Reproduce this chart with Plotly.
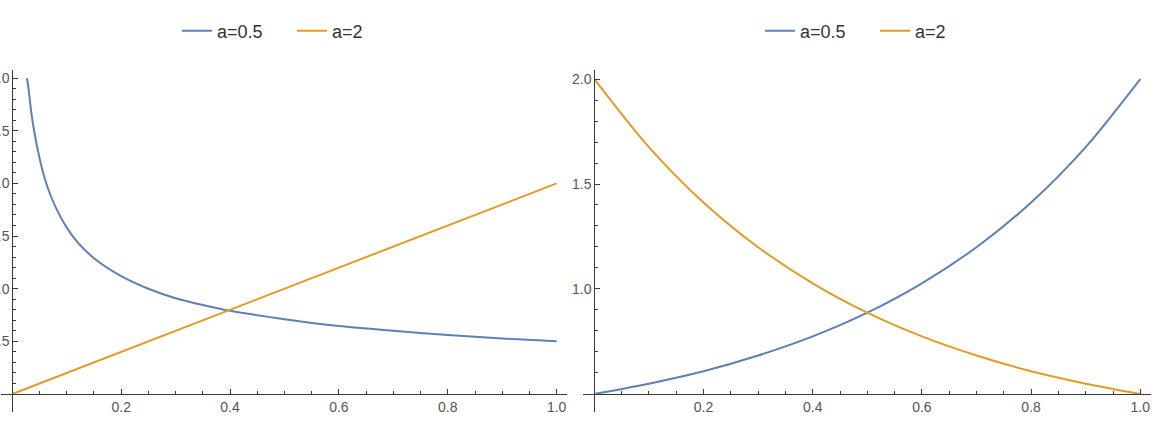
import plotly.graph_objects as go

W, H = 1156, 432

# ---- data ----
left_x_blue = [0.027, 0.03, 0.035, 0.04, 0.05, 0.06, 0.07, 0.08, 0.10, 0.12, 0.15, 0.20,
               0.25, 0.30, 0.35, 0.40, 0.50, 0.60, 0.70, 0.80, 0.90, 1.00]
left_y_blue = [3.00, 2.89, 2.67, 2.50, 2.24, 2.04, 1.89, 1.77, 1.58, 1.44, 1.29, 1.12,
               1.00, 0.91, 0.845, 0.79, 0.71, 0.645, 0.60, 0.56, 0.527, 0.50]
left_x_orange = [0.0, 0.2, 0.4, 0.6, 0.8, 1.0]
left_y_orange = [0.0, 0.4, 0.8, 1.2, 1.6, 2.0]

right_x = [0.0, 0.1, 0.2, 0.3, 0.4, 0.5, 0.6, 0.7, 0.8, 0.9, 1.0]
right_y_blue = [0.50, 0.549, 0.608, 0.683, 0.774, 0.887, 1.027, 1.199, 1.412, 1.676, 2.00]
right_y_orange = [2.00, 1.676, 1.412, 1.199, 1.027, 0.887, 0.774, 0.683, 0.608, 0.549, 0.50]

x_ticks = [0.2, 0.4, 0.6, 0.8, 1.0]
x_tick_labels = ["0.2", "0.4", "0.6", "0.8", "1.0"]
left_y_ticks = [0.5, 1.0, 1.5, 2.0, 2.5, 3.0]
left_y_tick_labels = ["0.5", "1.0", "1.5", "2.0", "2.5", "3.0"]
right_y_ticks = [1.0, 1.5, 2.0]
right_y_tick_labels = ["1.0", "1.5", "2.0"]
names = ["a=0.5", "a=2"]

BLUE = "#5E81B5"
ORANGE = "#E19C24"
AX = "#3a3a3a"
FONT = "Liberation Sans, Arial, sans-serif"

x_minor = [round(0.05 * i, 2) for i in range(1, 21) if i % 4 != 0]
left_y_minor = [round(0.1 * i, 1) for i in range(1, 31) if i % 5 != 0]
right_y_minor = [round(0.5 + 0.1 * i, 1) for i in range(1, 16) if i % 5 != 0]

fig = go.Figure()
fig.add_trace(go.Scatter(x=left_x_blue, y=left_y_blue, name=names[0], mode="lines",
                         line=dict(color=BLUE, width=2, shape="spline", smoothing=0.8),
                         xaxis="x", yaxis="y", legend="legend"))
fig.add_trace(go.Scatter(x=left_x_orange, y=left_y_orange, name=names[1], mode="lines",
                         line=dict(color=ORANGE, width=2),
                         xaxis="x", yaxis="y", legend="legend"))
fig.add_trace(go.Scatter(x=right_x, y=right_y_blue, name=names[0], mode="lines",
                         line=dict(color=BLUE, width=2, shape="spline", smoothing=0.8),
                         xaxis="x2", yaxis="y2", legend="legend2"))
fig.add_trace(go.Scatter(x=right_x, y=right_y_orange, name=names[1], mode="lines",
                         line=dict(color=ORANGE, width=2, shape="spline", smoothing=0.8),
                         xaxis="x2", yaxis="y2", legend="legend2"))


def px_x(p):
    return p / W


def px_y(p):
    return (H - p) / H


common = dict(showline=True, linecolor=AX, linewidth=1, ticks="inside", ticklen=5,
              tickcolor=AX, tickwidth=1, showgrid=False, zeroline=False,
              tickfont=dict(family=FONT, size=14, color="#555"), automargin=False)

y_dom = [px_y(412), px_y(70)]
leg_font = dict(family=FONT, size=18, color="#333")

fig.update_layout(
    width=W, height=H,
    margin=dict(l=0, r=0, t=0, b=0),
    paper_bgcolor="white", plot_bgcolor="white",
    template="none",
    xaxis=dict(domain=[px_x(1), px_x(567)], range=[-0.0208, 1.019], anchor="free",
               position=px_y(394), tickmode="array", tickvals=x_ticks, ticktext=x_tick_labels,
               minor=dict(tickmode="array", tickvals=x_minor, ticks="inside", ticklen=3,
                          tickcolor=AX), **common),
    yaxis=dict(domain=y_dom, range=[-0.171, 3.077], anchor="free", position=px_x(12.3),
               tickmode="array", tickvals=left_y_ticks, ticktext=left_y_tick_labels,
               minor=dict(tickmode="array", tickvals=left_y_minor, ticks="inside", ticklen=3,
                          tickcolor=AX), **common),
    xaxis2=dict(domain=[px_x(583), px_x(1151)], range=[-0.0207, 1.0196], anchor="free",
                position=px_y(394), tickmode="array", tickvals=x_ticks, ticktext=x_tick_labels,
                minor=dict(tickmode="array", tickvals=x_minor, ticks="inside", ticklen=3,
                           tickcolor=AX), **common),
    yaxis2=dict(domain=y_dom, range=[0.414, 2.043], anchor="free", position=px_x(594.3),
                tickmode="array", tickvals=right_y_ticks, ticktext=right_y_tick_labels,
                minor=dict(tickmode="array", tickvals=right_y_minor, ticks="inside", ticklen=3,
                           tickcolor=AX), **common),
    legend=dict(orientation="h", x=px_x(177), xanchor="left", y=px_y(31), yanchor="middle",
                font=leg_font, bgcolor="rgba(0,0,0,0)", entrywidth=70,
                entrywidthmode="pixels"),
    legend2=dict(orientation="h", x=px_x(760), xanchor="left", y=px_y(31), yanchor="middle",
                 font=leg_font, bgcolor="rgba(0,0,0,0)", entrywidth=70,
                 entrywidthmode="pixels"),
    showlegend=True,
)

fig.write_html("out.html")
